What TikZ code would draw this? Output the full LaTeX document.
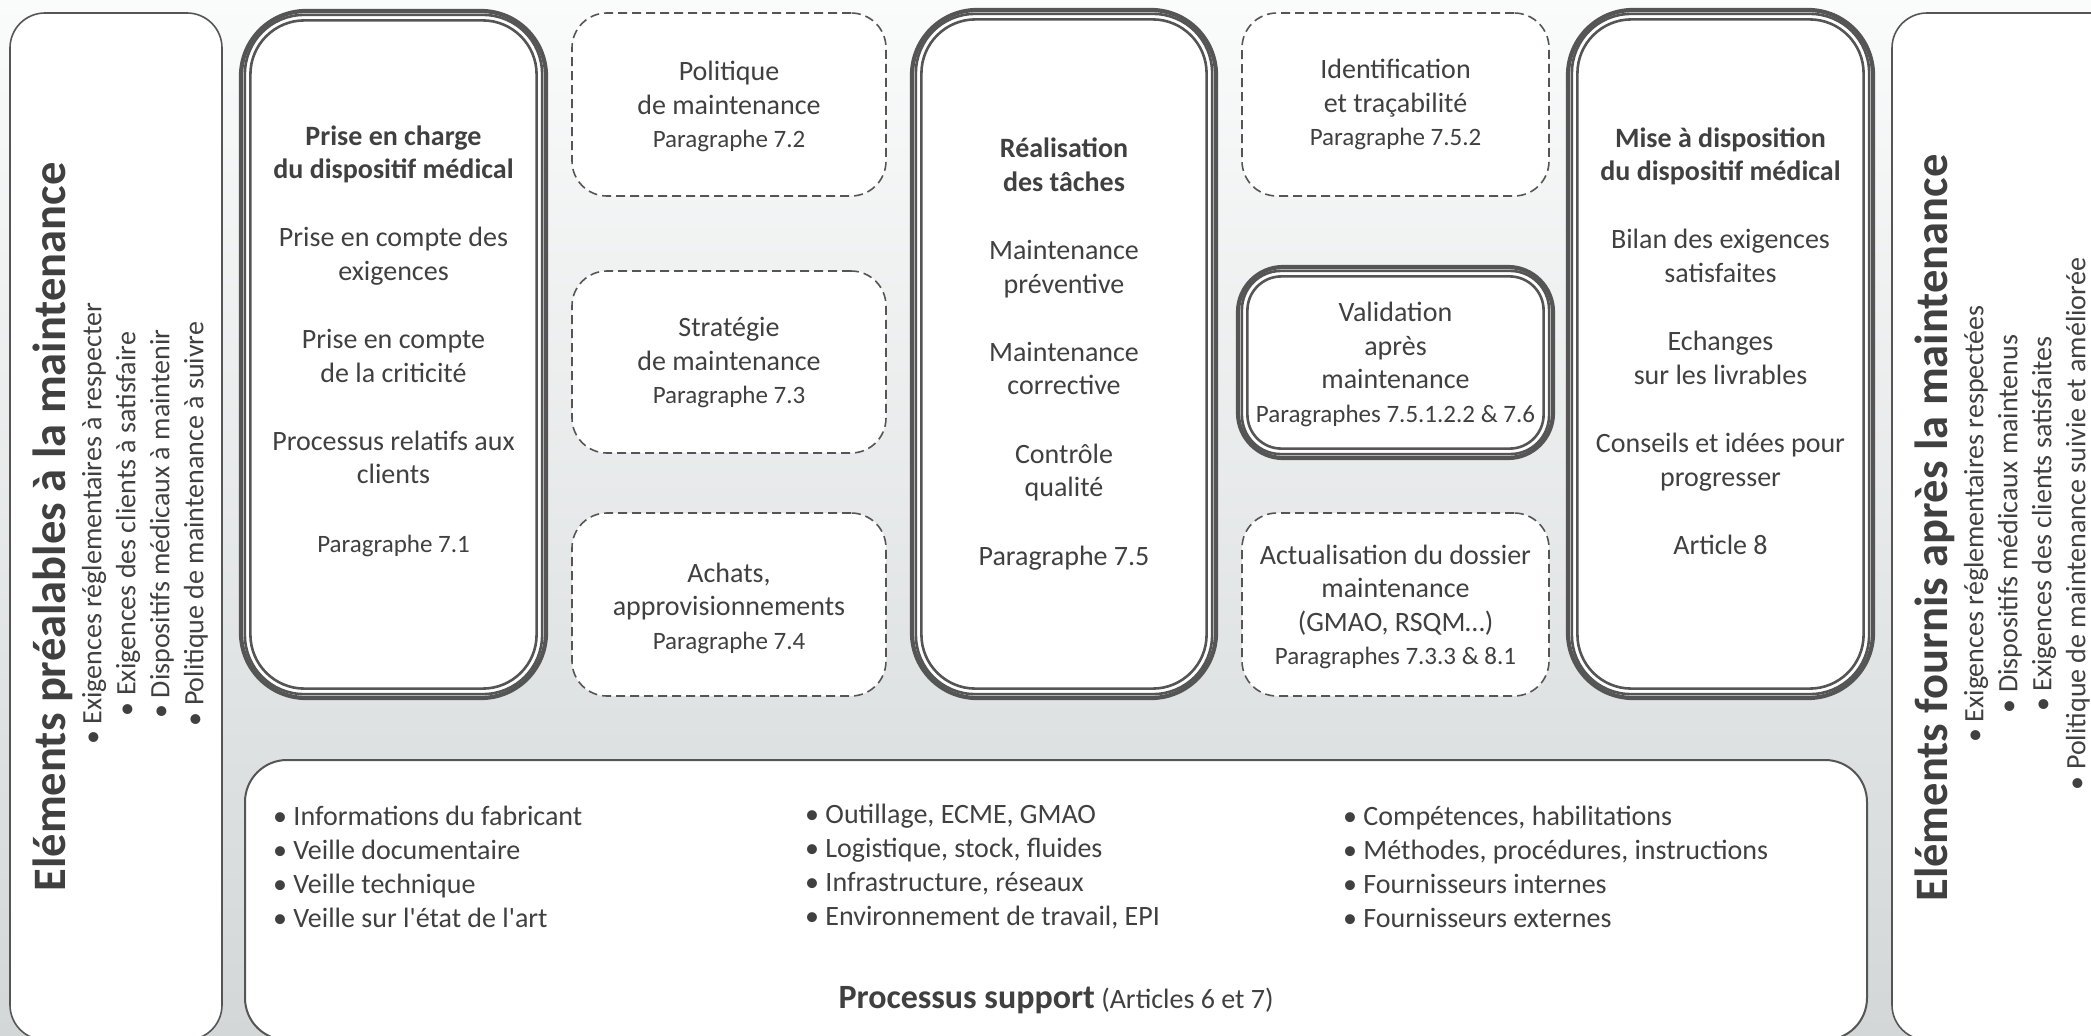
\documentclass[tikz,border=0pt]{standalone}
\usepackage{fontspec}
\setmainfont{Carlito}[Ligatures=TeXOff]
\usetikzlibrary{fit}
\definecolor{lc}{HTML}{555555}
\definecolor{tc}{HTML}{404040}
\definecolor{bgtop}{HTML}{FAFBFB}
\definecolor{bgbot}{HTML}{D3D7D8}
\newcommand\parag[1]{{\fontsize{25}{33.5}\selectfont #1}}
\tikzset{
  panel/.style={draw=lc, line width=1.6pt, fill=white, rounded corners=35pt, inner sep=0pt},
  tripleouter/.style={draw=lc, line width=4.2pt, fill=white, inner sep=0pt},
  tripleline/.style={draw=lc, line width=2.6pt},
  dashbox/.style={draw=lc, line width=1.6pt, dash pattern=on 9pt off 5pt, fill=white, rounded corners=35pt, inner sep=0pt},
  boxtext/.style={text=tc, align=center, font=\fontsize{28}{33.5}\selectfont, inner sep=0pt},
  paneltitle/.style={text=tc, font=\fontsize{46.5}{52}\selectfont\bfseries, inner sep=0pt},
  panellist/.style={text=tc, align=center, font=\fontsize{28}{34}\selectfont, inner sep=0pt},
  suptext/.style={text=tc, align=left, font=\fontsize{28}{34}\selectfont, inner sep=0pt, anchor=west},
}
\newcommand\tripbox[6]{%
  \node[tripleouter, rounded corners=#6pt, fit={(#2,#3) (#4,#5)}] (#1) {};
  \draw[tripleline, rounded corners=\the\numexpr#6-6\relax pt] ([shift={(6,6)}]#1.north west) rectangle ([shift={(-6,-6)}]#1.south east);
  \draw[tripleline, rounded corners=\the\numexpr#6-11\relax pt] ([shift={(11.5,11.5)}]#1.north west) rectangle ([shift={(-11.5,-11.5)}]#1.south east);
}
\begin{document}
\begin{tikzpicture}[x=1pt,y=-1pt]
\useasboundingbox (0,0) rectangle (2091,1036);
\clip (0,0) rectangle (2091,1036);
\fill[top color=bgtop, bottom color=bgbot] (0,0) rectangle (2091,1036);

% side panels and support box
\node[panel, fit={(10,13) (222,1040)}] (lp) {};
\node[panel, fit={(1892,13) (2130,1040)}] (rp) {};
\node[panel, line width=2pt, rounded corners=42pt, fit={(245,760) (1867,1040)}] (sp) {};

% triple boxes
\tripbox{b1}{241}{11}{546}{698}{65}
\tripbox{b2}{912}{10}{1216}{698}{65}
\tripbox{b3}{1568}{10}{1873}{698}{65}
\tripbox{bv}{1238}{267}{1553}{458}{45}

% dashed boxes
\node[dashbox, fit={(572,13) (886,196)}] (d1) {};
\node[dashbox, fit={(572,271) (886,453)}] (d2) {};
\node[dashbox, fit={(572,513) (886,696)}] (d3) {};
\node[dashbox, fit={(1242,13) (1549,196)}] (d4) {};
\node[dashbox, fit={(1242,513) (1549,696)}] (d5) {};

% texts
\node[boxtext] (t1) at (393.5,341) {\textbf{Prise en charge}\\\textbf{du dispositif médical}\\[34.8pt]Prise en compte des\\exigences\\[34.8pt]Prise en compte\\de la criticité\\[34.8pt]Processus relatifs aux\\clients\\[34.8pt]\parag{Paragraphe 7.1}};
\node[boxtext] (t2) at (1064,354) {\textbf{Réalisation}\\\textbf{des tâches}\\[34.8pt]Maintenance\\préventive\\[34.8pt]Maintenance\\corrective\\[34.8pt]Contrôle\\qualité\\[34.8pt]Paragraphe 7.5};
\node[boxtext] (t3) at (1720.5,341) {\textbf{Mise à disposition}\\\textbf{du dispositif médical}\\[34.8pt]Bilan des exigences\\satisfaites\\[34.8pt]Echanges\\sur les livrables\\[34.8pt]Conseils et idées pour\\progresser\\[34.8pt]Article 8};
\node[boxtext] (td1) at (729,106.5) {Politique\\de maintenance\\\parag{Paragraphe 7.2}};
\node[boxtext] (td2) at (729,363) {Stratégie\\de maintenance\\\parag{Paragraphe 7.3}};
\node[boxtext] (td3) at (729,608) {Achats,\\approvisionnements\\\parag{Paragraphe 7.4}};
\node[boxtext] (td4) at (1395.5,104.5) {Identification\\et traçabilité\\\parag{Paragraphe 7.5.2}};
\node[boxtext] (tv) at (1395.5,364.5) {Validation\\après\\maintenance\\\parag{Paragraphes 7.5.1.2.2 \& 7.6}};
\node[boxtext] (td5) at (1395.5,607) {Actualisation du dossier\\maintenance\\(GMAO, RSQM…)\\\parag{Paragraphes 7.3.3 \& 8.1}};

% side panel texts
\node[paneltitle, rotate=90] (lpt) at (53,527) {Eléments préalables à la maintenance};
\node[panellist, rotate=90] (lpl) at (145,524) {• Exigences réglementaires à respecter\\• Exigences des clients à satisfaire\\• Dispositifs médicaux à maintenir\\• Politique de maintenance à suivre};
\node[paneltitle, rotate=90] (rpt) at (1935,528) {Eléments fournis après la maintenance};
\node[panellist, rotate=90] (rpl) at (2027,524) {• Exigences réglementaires respectées\\• Dispositifs médicaux maintenus\\• Exigences des clients satisfaites\\• Politique de maintenance suivie et améliorée};

% support texts
\node[suptext] (c1) at (273,867) {• Informations du fabricant\\• Veille documentaire\\• Veille technique\\• Veille sur l'état de l'art};
\node[suptext] (c2) at (805,867) {• Outillage, ECME, GMAO\\• Logistique, stock, fluides\\• Infrastructure, réseaux\\• Environnement de travail, EPI};
\node[suptext] (c3) at (1343,867) {• Compétences, habilitations\\• Méthodes, procédures, instructions\\• Fournisseurs internes\\• Fournisseurs externes};
\node[text=tc, inner sep=0pt] (st) at (1056,1000) {{\fontsize{34}{36}\selectfont\bfseries Processus support}{\fontsize{28}{36}\selectfont\ (Articles 6 et 7)}};
\end{tikzpicture}
\end{document}
